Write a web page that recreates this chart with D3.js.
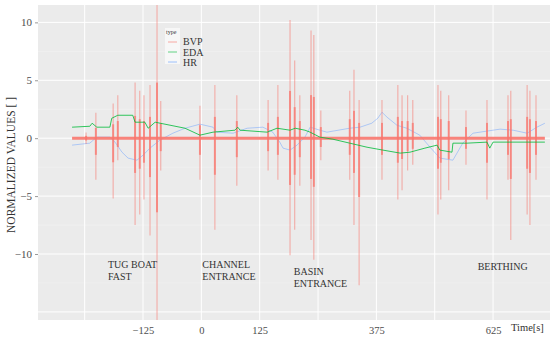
<!DOCTYPE html>
<html>
<head>
<meta charset="utf-8">
<script src="https://cdn.jsdelivr.net/npm/d3@7"></script>
<style>
  body { margin: 0; background: #fff; }
  svg text { font-family: "Liberation Serif", "DejaVu Serif", serif; }
</style>
</head>
<body>
<div class="box"></div>
<script>
// DATA

// BVP: dense baseline plus bursts (time, upper and lower envelope)
const bvpSpan = [-277, 736];
const spikeTime = [-247, -226, -189, -179, -142, -132, -123, -110, -95, -87, -3, 29, 76, 143, 164, 190, 200, 211, 235, 241,
                   256, 318, 327, 338, 387, 421, 430, 442, 453, 507, 513, 530, 567, 612, 657, 663, 698, 704, 717];
const spikeHigh = [0.5, 2.2, 3.0, 3.7, 4.8, 4.1, 3.7, 4.6, 12, 3.2, 2.8, 4.6, 3.7, 3.3, 4.6, 10.2, 6.7, 3.7, 9.3, 8.9,
                   2.4, 4.1, 5.9, 3.3, 3.3, 4.6, 3.7, 3.7, 3.3, 4.6, 4.1, 3.7, 2.4, 3.3, 3.7, 4.1, 4.6, 4.1, 3.7];
const spikeLow = [-0.5, -3.6, -5.2, -1.9, -7.5, -6.6, -5.3, -8.4, -16, -2.8, -3.6, -7.9, -4.1, -2.8, -3.6, -10.1, -7.9, -4.1, -8.8, -10.5,
                  -1.9, -3.6, -7.5, -12.7, -3.6, -5.3, -4.5, -2.8, -2.3, -6.6, -5.3, -4.5, -2.3, -5.3, -3.6, -8.8, -6.6, -7.5, -3.6];

// EDA
const edaTime = [-277, -239, -234, -224, -196, -192, -179, -147, -142, -121, -114, -99, -35, -3, 25, 72, 78, 83, 141, 162,
                 190, 201, 222, 233, 254, 282, 318, 355, 389, 426, 447, 479, 505, 511, 537, 539, 569, 612, 618, 625, 698, 736];
const edaValue = [0.95, 1.03, 1.29, 0.95, 0.95, 1.72, 1.98, 1.98, 1.38, 1.38, 0.86, 1.38, 0.86, 0.26, 0.52, 0.69, 0.95, 0.69, 0.52, 0.86,
                  0.69, 0.86, 0.69, 0.52, 0.09, -0.09, -0.43, -0.78, -1.03, -1.29, -1.21, -0.86, -0.60, -1.03, -1.21, -0.43, -0.43, -0.34, -0.86, -0.34, -0.34, -0.34];

// HR
const hrTime = [-277, -239, -224, -196, -185, -170, -157, -138, -125, -110, -89, -61, -35, -3, 25, 33, 68, 98, 132, 153,
                168, 175, 190, 205, 222, 233, 254, 269, 318, 340, 365, 378, 387, 398, 419, 440, 468, 490, 511, 539,
                560, 582, 640, 668, 698, 719, 736];
const hrValue = [-0.60, -0.43, 0.09, 0.09, -0.34, -1.21, -1.72, -1.90, -1.47, -0.86, -0.17, 0.43, 0.86, 1.21, 0.95, 0.52, 0.43, 0.86, 0.95, 0.52,
                 -0.34, -0.86, -1.03, -0.60, 0.09, 0.95, 0.69, 0.52, 0.86, 0.95, 1.29, 1.72, 2.24, 1.81, 1.12, 0.86, 0.26, -0.78, -1.72, -1.90,
                 -0.43, 0.43, 0.78, 0.69, 0.43, 0.95, 1.29];

const xTicks = [-125, 0, 125, 375, 625];
const xGrid = [-250, -125, 0, 125, 250, 375, 500, 625];
const yTicks = [-10, -5, 0, 5, 10];
const yGrid = [-15, -10, -5, 0, 5, 10];
const yMinorGrid = [-12.5, -7.5, -2.5, 2.5, 7.5];

const phases = [
  { t: -200, v: -11.2, lines: ['TUG BOAT', 'FAST'] },
  { t: 2, v: -11.2, lines: ['CHANNEL', 'ENTRANCE'] },
  { t: 198, v: -11.8, lines: ['BASIN', 'ENTRANCE'] },
  { t: 592, v: -11.4, lines: ['BERTHING'] }
];

const legendItems = ['BVP', 'EDA', 'HR'];
const colors = { BVP: '#F8766D', EDA: '#00BA38', HR: '#619CFF' };

// SVG
const width = 550, height = 337;
const svg = d3.select('.box').append('svg')
  .attr('width', width)
  .attr('height', height);

const mLeft = 38, mRight = 550, mTop = 5, mBottom = 320;

const x = d3.scaleLinear().domain([-350, 747]).range([mLeft, mRight]);
const y = d3.scaleLinear().domain([-15.7, 11.5]).range([mBottom, mTop]);

// panel
svg.append('rect')
  .attr('x', mLeft).attr('y', mTop)
  .attr('width', mRight - mLeft).attr('height', mBottom - mTop)
  .attr('fill', '#ebebeb');

svg.append('clipPath').attr('id', 'clip')
  .append('rect')
  .attr('x', mLeft).attr('y', mTop)
  .attr('width', mRight - mLeft).attr('height', mBottom - mTop);

// grid
svg.selectAll('.gminor')
  .data(yMinorGrid)
  .join('line')
  .attr('x1', mLeft).attr('x2', mRight)
  .attr('y1', d => y(d)).attr('y2', d => y(d))
  .attr('stroke', '#f5f5f5').attr('stroke-width', 0.5);

svg.selectAll('.gy')
  .data(yGrid)
  .join('line')
  .attr('x1', mLeft).attr('x2', mRight)
  .attr('y1', d => y(d)).attr('y2', d => y(d))
  .attr('stroke', '#fff').attr('stroke-width', 1);

svg.selectAll('.gx')
  .data(xGrid)
  .join('line')
  .attr('x1', d => x(d)).attr('x2', d => x(d))
  .attr('y1', mTop).attr('y2', mBottom)
  .attr('stroke', '#fff').attr('stroke-width', 1);

const plot = svg.append('g').attr('clip-path', 'url(#clip)');

const hrData = hrTime.map((t, i) => [t, hrValue[i]]);
const edaData = edaTime.map((t, i) => [t, edaValue[i]]);
const line = d3.line().x(d => x(d[0])).y(d => y(d[1]));

// HR
plot.append('path')
  .datum(hrData)
  .attr('d', line)
  .attr('fill', 'none')
  .attr('stroke', colors.HR)
  .attr('stroke-opacity', 0.45)
  .attr('stroke-width', 1);

// BVP baseline
plot.append('line')
  .attr('x1', x(bvpSpan[0])).attr('x2', x(bvpSpan[1]))
  .attr('y1', y(0)).attr('y2', y(0))
  .attr('stroke', colors.BVP)
  .attr('stroke-opacity', 0.9)
  .attr('stroke-width', 3);

// BVP bursts
const spikes = spikeTime.map((t, i) => ({ t: t, hi: spikeHigh[i], lo: spikeLow[i] }));

plot.selectAll('.spike')
  .data(spikes)
  .join('line')
  .attr('x1', d => x(d.t)).attr('x2', d => x(d.t))
  .attr('y1', d => y(d.hi)).attr('y2', d => y(d.lo))
  .attr('stroke', colors.BVP)
  .attr('stroke-opacity', 0.55)
  .attr('stroke-width', 1.1);

plot.selectAll('.core')
  .data(spikes)
  .join('line')
  .attr('x1', d => x(d.t)).attr('x2', d => x(d.t))
  .attr('y1', d => y(d.hi * 0.4)).attr('y2', d => y(d.lo * 0.4))
  .attr('stroke', colors.BVP)
  .attr('stroke-opacity', 0.75)
  .attr('stroke-width', 2);

// EDA
plot.append('path')
  .datum(edaData)
  .attr('d', line)
  .attr('fill', 'none')
  .attr('stroke', colors.EDA)
  .attr('stroke-opacity', 0.8)
  .attr('stroke-width', 1);

// axes
const yAxis = svg.append('g')
  .attr('transform', `translate(${mLeft},0)`)
  .call(d3.axisLeft(y).tickValues(yTicks).tickSize(3).tickFormat(d3.format('d')));
yAxis.select('.domain').remove();
yAxis.selectAll('line').attr('stroke', '#999');
yAxis.selectAll('text')
  .attr('fill', '#4d4d4d')
  .attr('font-size', 11)
  .attr('font-family', '"Liberation Serif", serif')
  .text(d => d < 0 ? '\u2212' + Math.abs(d) : d);

const xAxis = svg.append('g')
  .attr('transform', `translate(0,${mBottom})`)
  .call(d3.axisBottom(x).tickValues(xTicks).tickSize(0).tickPadding(7));
xAxis.select('.domain').remove();
xAxis.selectAll('text')
  .attr('fill', '#4d4d4d')
  .attr('font-size', 10.5)
  .attr('font-family', '"Liberation Serif", serif')
  .text(d => d < 0 ? '\u2212' + Math.abs(d) : d);

svg.append('text')
  .attr('x', 511).attr('y', 331)
  .attr('fill', '#333')
  .attr('font-size', 10.5)
  .text('Time[s]');

svg.append('text')
  .attr('transform', 'translate(15,165) rotate(-90)')
  .attr('text-anchor', 'middle')
  .attr('fill', '#333')
  .attr('font-size', 11.5)
  .text('NORMALIZED VALUES [ ]');

// phase labels
phases.forEach(p => {
  const t = svg.append('text')
    .attr('x', x(p.t)).attr('y', y(p.v))
    .attr('fill', '#333')
    .attr('font-size', 10);
  p.lines.forEach((s, i) => {
    t.append('tspan')
      .attr('x', x(p.t))
      .attr('dy', i === 0 ? 0 : 12)
      .text(s);
  });
});

// legend
const legend = svg.append('g').attr('transform', 'translate(165,28)');
legend.append('rect')
  .attr('x', 0).attr('y', 0)
  .attr('width', 15).attr('height', 36)
  .attr('fill', '#f7f7f7');
legend.append('text')
  .attr('x', 1).attr('y', 6)
  .attr('font-size', 6)
  .attr('fill', '#333')
  .text('type');
legendItems.forEach((k, i) => {
  legend.append('line')
    .attr('x1', 3).attr('x2', 12)
    .attr('y1', 14 + i * 10).attr('y2', 14 + i * 10)
    .attr('stroke', colors[k])
    .attr('stroke-opacity', 0.6);
  legend.append('text')
    .attr('x', 18).attr('y', 17 + i * 10.5)
    .attr('font-size', 10)
    .attr('fill', '#333')
    .text(k);
});
</script>
</body>
</html>
